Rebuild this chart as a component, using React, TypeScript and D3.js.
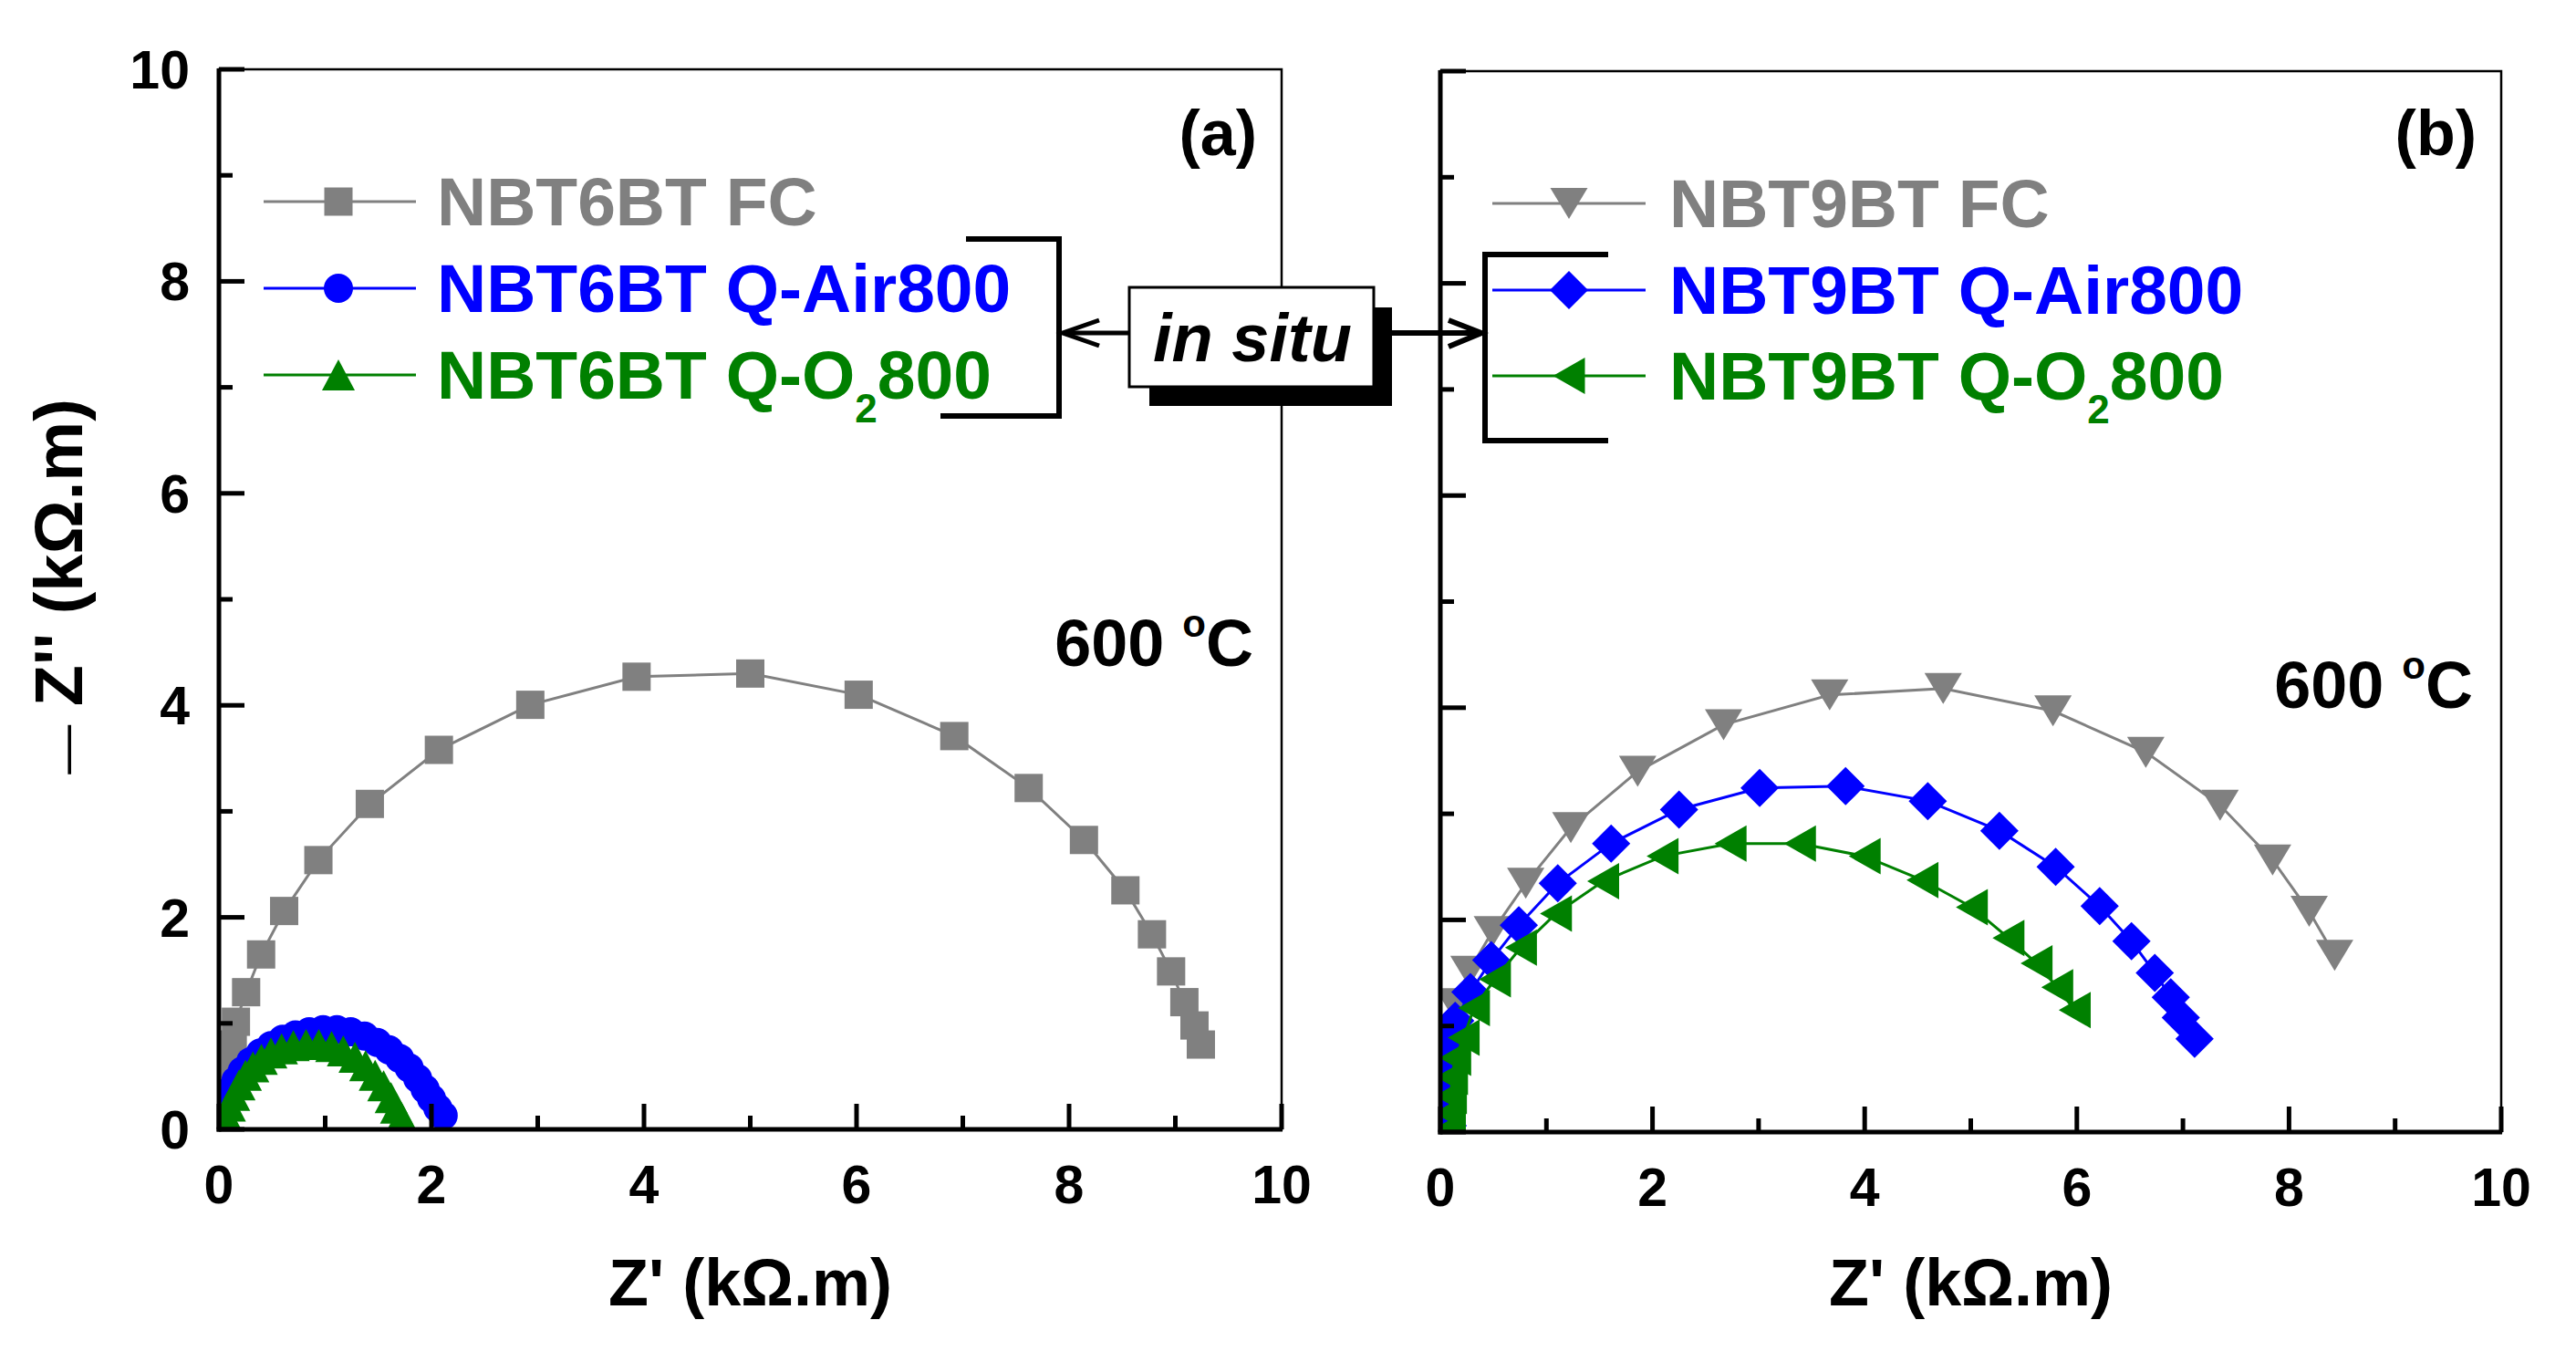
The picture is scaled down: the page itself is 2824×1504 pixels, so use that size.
import * as d3 from 'd3'

// Z' (kΩ.m), -Z'' (kΩ.m) pairs
const nbt6FC: [number, number][] = [
  [0.02, 0.12], [0.04, 0.28], [0.07, 0.45], [0.1, 0.63], [0.13, 0.8], [0.16, 1.015],
  [0.256, 1.294], [0.397, 1.65], [0.614, 2.06], [0.936, 2.54], [1.42, 3.07], [2.07, 3.58],
  [2.93, 4.005], [3.93, 4.27], [5.0, 4.3], [6.02, 4.1], [6.92, 3.71], [7.62, 3.22],
  [8.14, 2.73], [8.53, 2.255], [8.78, 1.84], [8.96, 1.49], [9.085, 1.2], [9.18, 0.98], [9.24, 0.8],
]
const nbt6Air: [number, number][] = [
  [0.02, 0.06], [0.04, 0.17], [0.07, 0.28], [0.11, 0.37], [0.16, 0.46], [0.22, 0.55],
  [0.3, 0.64], [0.39, 0.72], [0.49, 0.79], [0.6, 0.85], [0.72, 0.89], [0.85, 0.92],
  [0.98, 0.94], [1.11, 0.94], [1.24, 0.92], [1.37, 0.88], [1.49, 0.82], [1.6, 0.75],
  [1.7, 0.67], [1.79, 0.58], [1.87, 0.48], [1.94, 0.38], [2.0, 0.29], [2.06, 0.2], [2.11, 0.13],
]
const nbt6O2: [number, number][] = [
  [0.04, 0.03], [0.07, 0.12], [0.1, 0.22], [0.14, 0.32], [0.19, 0.42], [0.25, 0.51],
  [0.32, 0.59], [0.4, 0.66], [0.49, 0.72], [0.59, 0.76], [0.7, 0.79], [0.82, 0.8],
  [0.94, 0.8], [1.06, 0.78], [1.17, 0.74], [1.28, 0.68], [1.38, 0.6], [1.47, 0.51],
  [1.55, 0.41], [1.62, 0.3], [1.67, 0.2], [1.72, 0.11], [1.75, 0.04],
]
const nbt9FC: [number, number][] = [
  [0.02, 0.3], [0.03, 0.62], [0.04, 0.96], [0.126, 1.21], [0.27, 1.515], [0.49, 1.89],
  [0.805, 2.345], [1.23, 2.87], [1.86, 3.4], [2.67, 3.84], [3.67, 4.12], [4.74, 4.18],
  [5.775, 3.97], [6.65, 3.58], [7.35, 3.08], [7.845, 2.565], [8.19, 2.08], [8.43, 1.665],
]
const nbt9Air: [number, number][] = [
  [0.07, 0.06], [0.06, 0.25], [0.05, 0.45], [0.04, 0.65], [0.05, 0.84], [0.14, 1.05],
  [0.284, 1.32], [0.48, 1.62], [0.74, 1.95], [1.107, 2.345], [1.61, 2.72], [2.25, 3.04],
  [3.01, 3.243], [3.82, 3.26], [4.595, 3.12], [5.27, 2.84], [5.8, 2.5], [6.215, 2.13],
  [6.515, 1.8], [6.735, 1.5], [6.885, 1.27], [6.98, 1.08], [7.11, 0.88],
]
const nbt9O2: [number, number][] = [
  [0.09, 0.03], [0.09, 0.18], [0.1, 0.34], [0.11, 0.52], [0.14, 0.7], [0.22, 0.89],
  [0.317, 1.17], [0.515, 1.44], [0.76, 1.74], [1.09, 2.06], [1.535, 2.365], [2.095, 2.6],
  [2.736, 2.72], [3.39, 2.72], [4.0, 2.6], [4.545, 2.375], [5.01, 2.12], [5.355, 1.83],
  [5.62, 1.59], [5.815, 1.365], [5.98, 1.15],
]

const axisTicks = [0, 2, 4, 6, 8, 10]
const minorTicks = [1, 3, 5, 7, 9]

const GRAY = '#808080'
const BLUE = '#0000ff'
const GREEN = '#008000'
const FONT = '"Liberation Sans", Arial, Helvetica, sans-serif'

type Shape = 'square' | 'circle' | 'up' | 'down' | 'diamond' | 'left'
type Series = { name: string; sub?: string; tail?: string; color: string; shape: Shape; points: [number, number][] }
type Frame = { left: number; right: number; top: number; bottom: number }

function markerPath(shape: Shape): string {
  switch (shape) {
    case 'square':
      return 'M-15.5,-15.5H15.5V15.5H-15.5Z'
    case 'circle':
      return d3.symbol().type(d3.symbolCircle).size(Math.PI * 16 * 16)() ?? ''
    case 'up':
      return 'M0,-17L18,17L-18,17Z'
    case 'down':
      return 'M0,17L20.5,-17L-20.5,-17Z'
    case 'diamond':
      return 'M0,-21L21,0L0,21L-21,0Z'
    case 'left':
      return 'M-17.5,0L17.5,-20L17.5,20Z'
  }
}

const panelA: Series[] = [
  { name: 'NBT6BT FC', color: GRAY, shape: 'square', points: nbt6FC },
  { name: 'NBT6BT Q-Air800', color: BLUE, shape: 'circle', points: nbt6Air },
  { name: 'NBT6BT Q-O', sub: '2', tail: '800', color: GREEN, shape: 'up', points: nbt6O2 },
]
const panelB: Series[] = [
  { name: 'NBT9BT FC', color: GRAY, shape: 'down', points: nbt9FC },
  { name: 'NBT9BT Q-Air800', color: BLUE, shape: 'diamond', points: nbt9Air },
  { name: 'NBT9BT Q-O', sub: '2', tail: '800', color: GREEN, shape: 'left', points: nbt9O2 },
]

function Panel({
  id,
  frame,
  series,
  showYLabels,
  tag,
  tempY,
  legend,
}: {
  id: string
  frame: Frame
  series: Series[]
  showYLabels: boolean
  tag: string
  tempY: number
  legend: { lineX1: number; lineX2: number; markX: number; textX: number; rows: number[] }
}) {
  const x = d3.scaleLinear().domain([0, 10]).range([frame.left, frame.right])
  const y = d3.scaleLinear().domain([0, 10]).range([frame.bottom, frame.top])
  const line = d3
    .line<[number, number]>()
    .x((d) => x(d[0]))
    .y((d) => y(d[1]))

  return (
    <g>
      <defs>
        <clipPath id={`clip-${id}`}>
          <rect x={frame.left} y={frame.top} width={frame.right - frame.left} height={frame.bottom - frame.top} />
        </clipPath>
      </defs>

      <g clipPath={`url(#clip-${id})`}>
        {series.map((s) => (
          <g key={s.name}>
            <path d={line(s.points) ?? ''} fill="none" stroke={s.color} strokeWidth="3" />
            {s.points.map((p, i) => (
              <path key={i} d={markerPath(s.shape)} transform={`translate(${x(p[0])},${y(p[1])})`} fill={s.color} />
            ))}
          </g>
        ))}
      </g>

      {/* frame */}
      <rect
        x={frame.left}
        y={frame.top}
        width={frame.right - frame.left}
        height={frame.bottom - frame.top}
        fill="none"
        stroke="#000"
        strokeWidth="2.5"
      />
      <line x1={frame.left} x2={frame.left} y1={frame.top - 1} y2={frame.bottom + 2.5} stroke="#000" strokeWidth="5" />
      <line x1={frame.left - 2.5} x2={frame.right + 1} y1={frame.bottom} y2={frame.bottom} stroke="#000" strokeWidth="5" />

      {axisTicks.map((t) => (
        <g key={`x${t}`}>
          <line x1={x(t)} x2={x(t)} y1={frame.bottom} y2={frame.bottom - 28} stroke="#000" strokeWidth="5" />
          <text
            x={x(t)}
            y={frame.bottom + 81}
            textAnchor="middle"
            fontSize="59"
            fontWeight="bold"
            fontFamily={FONT}
          >
            {t}
          </text>
        </g>
      ))}
      {minorTicks.map((t) => (
        <line key={`xm${t}`} x1={x(t)} x2={x(t)} y1={frame.bottom} y2={frame.bottom - 15} stroke="#000" strokeWidth="5" />
      ))}
      {axisTicks.map((t) => (
        <g key={`y${t}`}>
          <line x1={frame.left} x2={frame.left + 28} y1={y(t)} y2={y(t)} stroke="#000" strokeWidth="5" />
          {showYLabels && (
            <text
              x={frame.left - 32}
              y={y(t) + 21}
              textAnchor="end"
              fontSize="59"
              fontWeight="bold"
              fontFamily={FONT}
            >
              {t}
            </text>
          )}
        </g>
      ))}
      {minorTicks.map((t) => (
        <line key={`ym${t}`} x1={frame.left} x2={frame.left + 15} y1={y(t)} y2={y(t)} stroke="#000" strokeWidth="5" />
      ))}

      <text
        x={(frame.left + frame.right) / 2}
        y={1431}
        textAnchor="middle"
        fontSize="72"
        fontWeight="bold"
        fontFamily={FONT}
      >
        Z' (kΩ.m)
      </text>

      <text x={frame.right - 27} y={170} textAnchor="end" fontSize="70" fontWeight="bold" fontFamily={FONT}>
        {tag}
      </text>

      <text x={frame.right - 31} y={tempY} textAnchor="end" fontSize="72" fontWeight="bold" fontFamily={FONT}>
        600{' '}
        <tspan fontSize="42" dy="-32">
          o
        </tspan>
        <tspan dy="32">C</tspan>
      </text>

      {series.map((s, i) => {
        const ry = legend.rows[i]
        return (
          <g key={`leg-${s.name}`}>
            <line x1={legend.lineX1} x2={legend.lineX2} y1={ry} y2={ry} stroke={s.color} strokeWidth="3" />
            <path d={markerPath(s.shape)} transform={`translate(${legend.markX},${ry})`} fill={s.color} />
            <text x={legend.textX} y={ry + 26} fontSize="75" fontWeight="bold" fontFamily={FONT} fill={s.color}>
              {s.name}
              {s.sub && (
                <tspan fontSize="44" dy="26">
                  {s.sub}
                </tspan>
              )}
              {s.tail && <tspan dy="-26">{s.tail}</tspan>}
            </text>
          </g>
        )
      })}
    </g>
  )
}

export default function App() {
  const frameA: Frame = { left: 240, right: 1405, top: 76, bottom: 1238 }
  const frameB: Frame = { left: 1579, right: 2742, top: 78, bottom: 1241 }

  return (
    <svg
      width={2824}
      height={1504}
      viewBox="0 0 2824 1504"
      style={{ position: 'absolute', left: 0, top: 0, background: '#fff' }}
    >
      <rect width={2824} height={1504} fill="#fff" />
      <Panel
        id="a"
        frame={frameA}
        series={panelA}
        showYLabels
        tag="(a)"
        tempY={730}
        legend={{ lineX1: 289, lineX2: 456, markX: 371, textX: 479, rows: [221, 316, 411] }}
      />
      <Panel
        id="b"
        frame={frameB}
        series={panelB}
        showYLabels={false}
        tag="(b)"
        tempY={776}
        legend={{ lineX1: 1636, lineX2: 1804, markX: 1720, textX: 1830, rows: [223, 318, 412] }}
      />

      <text
        transform="translate(90,643) rotate(-90)"
        textAnchor="middle"
        fontSize="74"
        fontWeight="bold"
        fontFamily={FONT}
      >
        <tspan fontWeight="normal" fontSize="54">—</tspan> Z'' (kΩ.m)
      </text>

      {/* in situ annotation */}
      <path d="M1059,262H1161V456H1031" fill="none" stroke="#000" strokeWidth="6" />
      <path d="M1763,279H1628V483H1763" fill="none" stroke="#000" strokeWidth="6" />
      <line x1={1238} x2={1166} y1={365} y2={365} stroke="#000" strokeWidth="5" />
      <path d="M1205,351L1165,365L1205,379" fill="none" stroke="#000" strokeWidth="5" />
      <line x1={1506} x2={1622} y1={365} y2={365} stroke="#000" strokeWidth="6" />
      <path d="M1588,351L1624,365L1588,380" fill="none" stroke="#000" strokeWidth="6" />
      <rect x={1260} y={337} width={266} height={108} fill="#000" />
      <rect x={1238} y={315} width={268} height={109} fill="#fff" stroke="#000" strokeWidth="3" />
      <text
        x={1373}
        y={396}
        textAnchor="middle"
        fontSize="74"
        fontWeight="bold"
        fontStyle="italic"
        fontFamily={FONT}
      >
        in situ
      </text>
    </svg>
  )
}
